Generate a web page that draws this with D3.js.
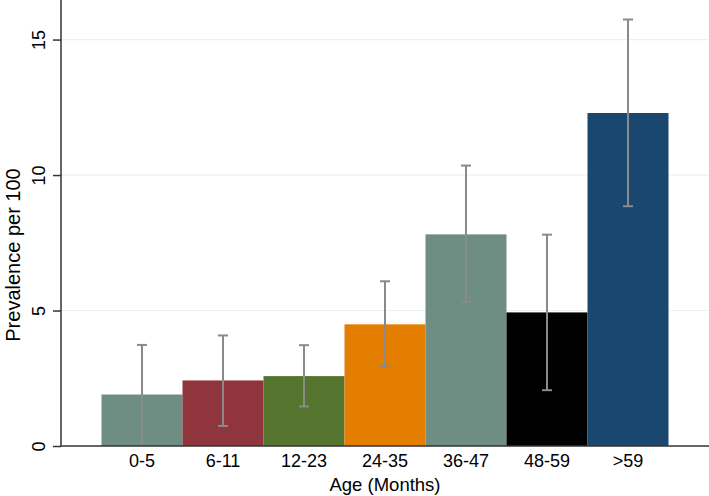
<!DOCTYPE html>
<html><head><meta charset="utf-8">
<script src="https://cdn.jsdelivr.net/npm/d3@7"></script>
<style>body{margin:0;background:#fff}svg{display:block}text{font-family:"Liberation Sans",Arial,sans-serif;fill:#000}</style>
</head><body><svg id="c" width="709" height="496"></svg>
<script>
const categories = ["0-5","6-11","12-23","24-35","36-47","48-59",">59"];
const prevalence = [1.90, 2.42, 2.58, 4.49, 7.81, 4.93, 12.29];
const ciLower    = [0.00, 0.74, 1.46, 2.92, 5.32, 2.06, 8.85];
const ciUpper    = [3.73, 4.08, 3.72, 6.08, 10.35, 7.80, 15.74];
const barColors  = ["#6e8e84","#90353b","#55752f","#e37e00","#6e8e84","#000000","#1a476f"];
const yTicks     = [0, 5, 10, 15];
const yTitle = "Prevalence per 100";
const xTitle = "Age (Months)";

const svg = d3.select("#c");
const m = {left:61, right:709, top:0, bottom:446};
const x = d3.scaleBand().domain(categories).range([m.left, m.right]).paddingInner(0).paddingOuter(0.5);
const y = d3.scaleLinear().domain([0, 16.46]).range([m.bottom, m.top]);

// grid
svg.append("g").selectAll("line").data(yTicks.filter(d=>d>0)).join("line")
  .attr("x1", m.left).attr("x2", m.right).attr("y1", d=>y(d)).attr("y2", d=>y(d))
  .attr("stroke", "#eaf2f3").attr("stroke-width", 1.2);

// bars
svg.append("g").selectAll("rect").data(categories).join("rect")
  .attr("x", d=>x(d)).attr("width", x.bandwidth())
  .attr("y", (d,i)=>y(prevalence[i])).attr("height", (d,i)=>y(0)-y(prevalence[i]))
  .attr("fill", (d,i)=>barColors[i]);

// error bars
const eg = svg.append("g").attr("stroke", "#8a8a8a").attr("stroke-width", 2).attr("fill","none");
categories.forEach((c,i)=>{
  const cx = x(c) + x.bandwidth()/2;
  eg.append("line").attr("x1",cx).attr("x2",cx).attr("y1",y(ciLower[i])).attr("y2",y(ciUpper[i]));
  eg.append("line").attr("x1",cx-5).attr("x2",cx+5).attr("y1",y(ciUpper[i])).attr("y2",y(ciUpper[i]));
  if (ciLower[i] > 0) eg.append("line").attr("x1",cx-5).attr("x2",cx+5).attr("y1",y(ciLower[i])).attr("y2",y(ciLower[i]));
});

// y axis
const ya = svg.append("g").attr("transform",`translate(${m.left},0)`)
  .call(d3.axisLeft(y).tickValues(yTicks).tickSize(8).tickFormat(d3.format("d")));
ya.select(".domain").attr("stroke","#333").attr("stroke-width",1.5).attr("d",`M0,${m.top}V${m.bottom}`);
ya.selectAll(".tick line").attr("stroke","#333").attr("stroke-width",1.5);
ya.selectAll(".tick text").attr("font-size",18).attr("fill","#000")
  .attr("text-anchor","middle").attr("x",0).attr("y",0).attr("dy","0")
  .attr("transform","translate(-16,0) rotate(-90)");

// x axis
const xa = svg.append("g").attr("transform",`translate(0,${m.bottom})`)
  .call(d3.axisBottom(x).tickSize(0));
xa.select(".domain").attr("stroke","#333").attr("stroke-width",1.5).attr("d",`M${m.left},0H${m.right}`);
xa.selectAll(".tick text").attr("font-size",18).attr("fill","#000").attr("y",21).attr("dy","0");

// titles
svg.append("text").attr("x", 385).attr("y", 491).attr("text-anchor","middle")
  .attr("font-size",18.5).text(xTitle);
svg.append("text").attr("transform",`translate(20,255) rotate(-90)`).attr("text-anchor","middle")
  .attr("font-size",20).text(yTitle);
</script></body></html>
